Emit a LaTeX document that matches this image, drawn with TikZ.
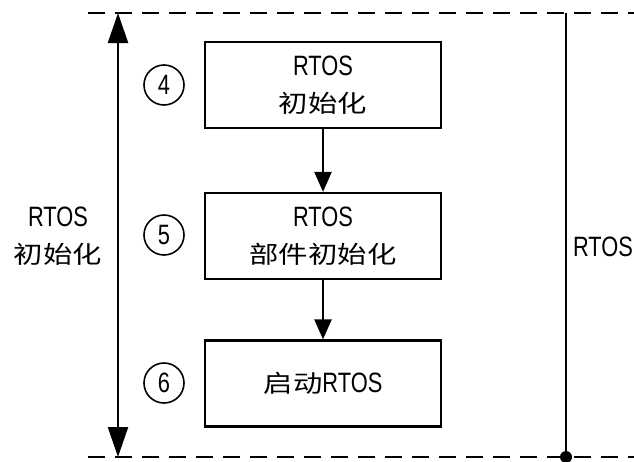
\documentclass[tikz,border=0pt]{standalone}
\usepackage{fontspec}
\usetikzlibrary{arrows.meta}
\setmainfont[FakeStretch=0.78]{Liberation Sans}
\newfontfamily\cjk[FakeStretch=1.22,Scale=0.86]{Noto Sans CJK SC}
\begin{document}
\begin{tikzpicture}[x=1pt,y=-1pt,
  line width=2.2pt,
  dashline/.style={dash pattern=on 17pt off 10pt},
  stepbox/.style={draw, minimum width=236pt, minimum height=86pt, inner sep=0pt, align=center, font=\fontsize{28}{37}\selectfont},
  numc/.style={draw, circle, minimum size=40pt, inner sep=0pt, line width=1.6pt, font=\fontsize{28}{30}\selectfont},
  lbl/.style={align=center, font=\fontsize{28}{37}\selectfont},
  bigarrow/.style={-{Triangle[length=30pt,width=20pt]}},
  smallarrow/.style={-{Triangle[length=20pt,width=17pt]}}]
\useasboundingbox (0,0) rectangle (634,461);
\coordinate (tl) at (88,13);
\coordinate (tr) at (634,13);
\coordinate (bl) at (88,457);
\coordinate (br) at (634,457);
\draw[dashline] (tl) -- (tr);
\draw[dashline] (bl) -- (br);
\coordinate (at) at (118,13);
\coordinate (ab) at (118,457);
\coordinate (amid) at (118,235);
\draw[bigarrow] (amid) -- (at);
\draw[bigarrow] (amid) -- (ab);
\coordinate (rt) at (566,13);
\coordinate (rb) at (566,457);
\draw (rt) -- (rb);
\fill (rb) circle (6pt);
\node[stepbox] (b1) at (323,85) {RTOS\\{\cjk 初始化}};
\node[stepbox] (b2) at (323,236) {RTOS\\{\cjk 部件初始化}};
\node[stepbox] (b3) at (323,383.5) {{\cjk 启动}RTOS};
\draw[smallarrow] (b1) -- (b2);
\draw[smallarrow] (b2) -- (b3);
\node[numc] (c4) at (164,85) {4};
\node[numc] (c5) at (164,235) {5};
\node[numc] (c6) at (164,383) {6};
\node[lbl] (ll) at (58,236) {RTOS\\{\cjk 初始化}};
\node[lbl] (rl) at (603,247) {RTOS};
\end{tikzpicture}
\end{document}
